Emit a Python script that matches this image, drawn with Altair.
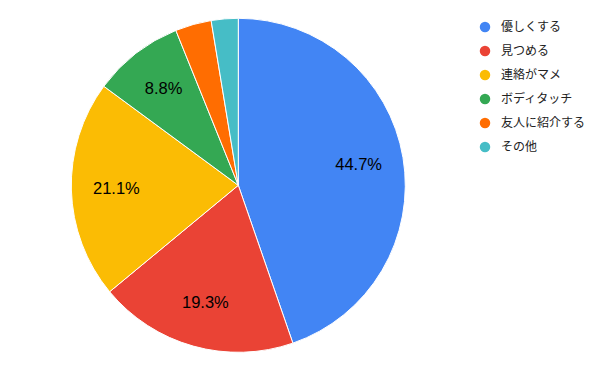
import altair as alt
import pandas as pd

categories = ["優しくする", "見つめる", "連絡がマメ", "ボディタッチ", "友人に紹介する", "その他"]
values = [44.7, 19.3, 21.1, 8.8, 3.5, 2.6]
colors = ["#4285F4", "#EA4335", "#FBBC04", "#34A853", "#FF6D01", "#46BDC6"]

df = pd.DataFrame({"cat": categories, "v": values, "idx": list(range(len(values)))})

base = alt.Chart(df).transform_calculate(
    lbl="datum.v >= 5 ? format(datum.v, '.1f') + '%' : ''"
).encode(
    theta=alt.Theta("v:Q", stack=True),
    order=alt.Order("idx:Q"),
    x=alt.value(238.3),
    y=alt.value(185.3),
)

arcs = base.mark_arc(outerRadius=167, stroke="white", strokeWidth=1).encode(
    color=alt.Color(
        "cat:N",
        scale=alt.Scale(domain=categories, range=colors),
        sort=categories,
        legend=alt.Legend(
            title=None,
            orient="none",
            legendX=479,
            legendY=21,
            symbolType="circle",
            symbolSize=110,
            symbolStrokeWidth=0,
            labelFontSize=12,
            labelFont="Liberation Sans, Arial, Noto Sans CJK JP",
            labelColor="#222222",
            labelOffset=10,
            rowPadding=12,
        ),
    )
)

texts = base.mark_text(
    radius=122, fontSize=16.5, font="Liberation Sans, Arial", color="#000000"
).encode(text="lbl:N")

chart = alt.layer(arcs, texts).properties(
    width=600, height=371, autosize=alt.AutoSizeParams(type="none"), padding=0
).configure_view(stroke=None)

chart.save("out.html", embed_options={"renderer": "svg", "actions": False})
